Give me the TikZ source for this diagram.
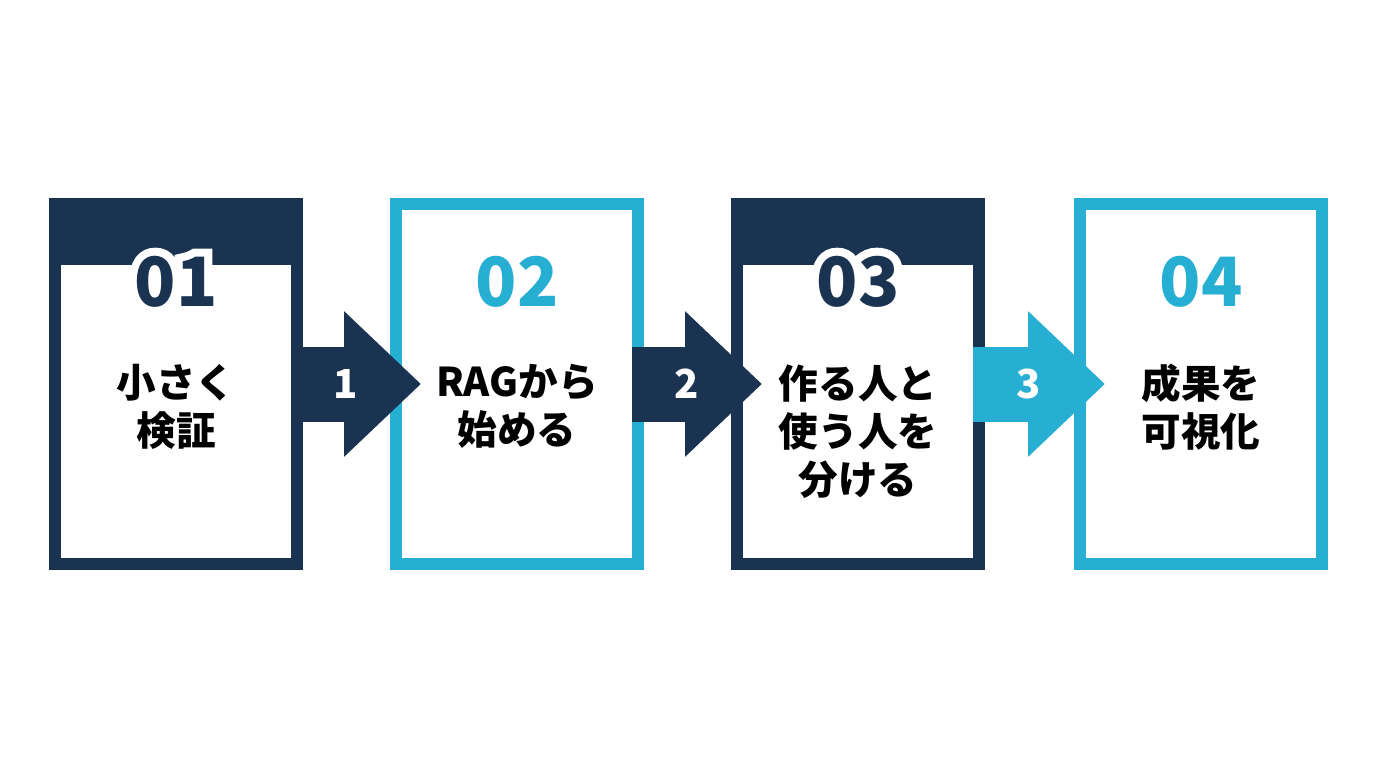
\documentclass[tikz,border=0pt]{standalone}
\usepackage{fontspec}
\usepackage{tikz}
\usetikzlibrary{positioning, arrows.meta}
\newfontfamily\cjk{Noto Sans CJK JP}
\newfontfamily\cjkhalo[BoldFeatures={FakeBold=24}]{Noto Sans CJK JP}
\definecolor{cardnavy}{HTML}{1A3350}
\definecolor{cardcyan}{HTML}{27AFD3}
\tikzstyle{navycard} = [rectangle, minimum width=121pt, minimum height=180pt, line width=6pt, draw=cardnavy, fill=white]
\tikzstyle{cyancard} = [rectangle, minimum width=121pt, minimum height=180pt, line width=6pt, draw=cardcyan, fill=white]
\tikzstyle{bignum} = [font=\cjk\bfseries\fontsize{34}{34}\selectfont, inner sep=0pt]
\tikzstyle{halonum} = [font=\cjkhalo\bfseries\fontsize{34}{34}\selectfont, inner sep=0pt, text=white]
\tikzstyle{cardtext} = [font=\cjk\bfseries\fontsize{19.8}{24}\selectfont, align=center, text=black, inner sep=0pt, anchor=north]
\tikzstyle{flowarrow} = [line width=37.5pt, -{Triangle[length=38.5pt,width=70.5pt]}]
\tikzstyle{flowlabel} = [font=\cjk\bfseries\fontsize{20}{20}\selectfont, text=white, inner sep=0pt, pos=0.42]
\begin{document}
\begin{tikzpicture}[node distance=170.5pt]
    \useasboundingbox (0,0) rectangle (688pt,384pt);
    \node (card1) [navycard] at (88pt,192pt) {};
    \node (card2) [cyancard, right of=card1] {};
    \node (card3) [navycard, right of=card2] {};
    \node (card4) [cyancard, right of=card3, xshift=1pt] {};
    \fill [cardnavy] (card1.north west) rectangle ([yshift=-33.5pt]card1.north east);
    \fill [cardnavy] (card3.north west) rectangle ([yshift=-33.5pt]card3.north east);
    \node (halo1) [halonum] at ([yshift=-41.75pt]card1.north) {01};
    \node (halo3) [halonum] at ([yshift=-41.75pt]card3.north) {03};
    \node (num1) [bignum, text=cardnavy] at ([yshift=-41.75pt]card1.north) {01};
    \node (num2) [bignum, text=cardcyan] at ([yshift=-41.75pt]card2.north) {02};
    \node (num3) [bignum, text=cardnavy] at ([yshift=-41.75pt]card3.north) {03};
    \node (num4) [bignum, text=cardcyan] at ([yshift=-41.75pt]card4.north) {04};
    \draw [flowarrow, cardnavy] ([xshift=-6pt]card1.east) -- node (step1) [flowlabel] {1} ([xshift=15.5pt]card2.west);
    \draw [flowarrow, cardnavy] ([xshift=-6pt]card2.east) -- node (step2) [flowlabel] {2} ([xshift=15.5pt]card3.west);
    \draw [flowarrow, cardcyan] ([xshift=-6pt]card3.east) -- node (step3) [flowlabel] {3} ([xshift=15.5pt]card4.west);
    \node (text1) [cardtext] at ([yshift=-83pt]card1.north) {小さく\\検証};
    \node (text2) [cardtext] at ([yshift=-83pt]card2.north) {RAGから\\始める};
    \node (text3) [cardtext] at ([yshift=-83pt]card3.north) {作る人と\\使う人を\\分ける};
    \node (text4) [cardtext] at ([yshift=-83pt]card4.north) {成果を\\可視化};
\end{tikzpicture}
\end{document}
